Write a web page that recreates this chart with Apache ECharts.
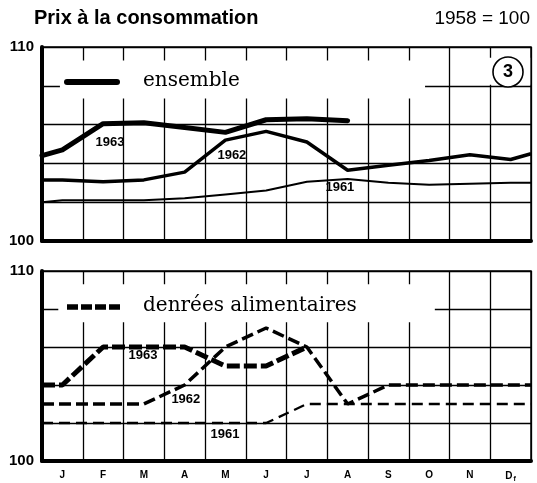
<!DOCTYPE html>
<html><head><meta charset="utf-8">
<script src="https://cdn.jsdelivr.net/npm/echarts@6/dist/echarts.min.js"></script>
<style>html,body{margin:0;padding:0;background:#fff}#c{width:537px;height:483px}</style>
</head><body><div id="c"></div>
<script>
// x positions: left edge, mid-month Jan..Dec, right edge
var xPos = [0, 0.5, 1.5, 2.5, 3.5, 4.5, 5.5, 6.5, 7.5, 8.5, 9.5, 10.5, 11.5, 12];
var monthLabels = ['J','F','M','A','M','J','J','A','S','O','N','D'];
var yTicks = [100, 110];

// Top panel: ensemble
var ens1963 = [104.4, 104.7, 106.05, 106.1, 105.85, 105.6, 106.25, 106.3, 106.2, null, null, null, null, null];
var ens1962 = [103.15, 103.15, 103.05, 103.15, 103.55, 105.2, 105.65, 105.1, 103.65, 103.9, 104.15, 104.45, 104.2, 104.5];
var ens1961 = [102.0, 102.1, 102.1, 102.1, 102.2, 102.4, 102.6, 103.05, 103.2, 103.0, 102.9, 102.95, 103.0, 103.0];

// Bottom panel: denrées alimentaires
var ali1963 = [104, 104, 106, 106, 106, 105, 105, 106, null, null, null, null, null, null];
var ali1962 = [103, 103, 103, 103, 104, 106, 107, 106, 103, 104, 104, 104, 104, 104];
var ali1961 = [102, 102, 102, 102, 102, 102, 102, 103, 103, 103, 103, 103, 103, 103];

function pairs(vals){
  var out = [];
  for (var i = 0; i < xPos.length; i++) if (vals[i] !== null) out.push([xPos[i], vals[i]]);
  return out;
}

var chart = echarts.init(document.getElementById('c'), null, {renderer: 'canvas'});

function yAx(gi){
  return {
    type: 'value', gridIndex: gi, min: 100, max: 110, interval: 2,
    axisLine: {show: true, lineStyle: {color: '#000', width: 4}},
    axisTick: {show: false},
    splitLine: {show: true, lineStyle: {color: '#000', width: 1.3}},
    axisLabel: {
      formatter: function(v){ return yTicks.indexOf(v) >= 0 ? String(v) : ''; },
      color: '#000', fontFamily: 'Liberation Sans', fontWeight: 'bold', fontSize: 15,
      margin: 8, padding: [0, 0, 4, 0]
    }
  };
}
function xVal(gi){
  return {
    type: 'value', gridIndex: gi, min: 0, max: 12, interval: 1, position: 'bottom',
    axisLine: {show: true, onZero: false, lineStyle: {color: '#000', width: 4}},
    axisTick: {show: false}, axisLabel: {show: false},
    splitLine: {show: true, lineStyle: {color: '#000', width: 1.3}}
  };
}

function yearLabel(x, y, txt){
  return {coord: [x, y], symbol: 'circle', symbolSize: 0,
    label: {show: true, position: 'inside', formatter: txt, color: '#000',
      fontFamily: 'Liberation Sans Narrow, Liberation Sans', fontWeight: 'bold', fontSize: 13}};
}

function whiteArea(x0, x1, y0, y1){
  return [{coord: [x0, y0], itemStyle: {color: '#fff', opacity: 1}}, {coord: [x1, y1]}];
}

var option = {
  animation: false,
  backgroundColor: '#fff',
  grid: [
    {left: 42, right: 6, top: 47, height: 194, show: true, borderColor: '#000', borderWidth: 1.5, backgroundColor: 'transparent'},
    {left: 42, right: 6, top: 271, height: 193, show: true, borderColor: '#000', borderWidth: 1.5, backgroundColor: 'transparent'}
  ],
  xAxis: [
    xVal(0), xVal(1),
    {
      type: 'category', gridIndex: 1, position: 'bottom', boundaryGap: true,
      data: monthLabels.map(function(m, i){ return String(i); }),
      axisLine: {show: false}, axisTick: {show: false}, splitLine: {show: false},
      axisLabel: {
        interval: 0, margin: 9, color: '#000', fontFamily: 'Liberation Sans', fontWeight: 'bold', fontSize: 10,
        formatter: function(v, i){ return i === 11 ? monthLabels[i] + '{s|f}' : monthLabels[i]; },
        rich: {s: {fontSize: 7, fontWeight: 'bold', fontFamily: 'Liberation Sans', color: '#000', padding: [6, 0, 0, 1]}}
      }
    }
  ],
  yAxis: [yAx(0), yAx(1)],
  series: [
    {type: 'line', name: '1961', xAxisIndex: 0, yAxisIndex: 0, data: pairs(ens1961), showSymbol: false,
      lineStyle: {color: '#000', width: 2}, z: 3,
      markArea: {silent: true, data: [whiteArea(0.44, 9.4, 107.35, 109.3), whiteArea(10.85, 11.98, 108.05, 109.45)]},
      markPoint: {data: [yearLabel(7.31, 102.75, '1961')]}},
    {type: 'line', name: '1962', xAxisIndex: 0, yAxisIndex: 0, data: pairs(ens1962), showSymbol: false,
      lineStyle: {color: '#000', width: 3.5}, z: 4,
      markPoint: {data: [yearLabel(4.66, 104.43, '1962')]}},
    {type: 'line', name: '1963', xAxisIndex: 0, yAxisIndex: 0, data: pairs(ens1963), showSymbol: false,
      lineStyle: {color: '#000', width: 5, cap: 'round', join: 'round'}, z: 5,
      markPoint: {data: [yearLabel(1.67, 105.1, '1963')]}},

    {type: 'line', name: 'a1961', xAxisIndex: 1, yAxisIndex: 1, data: pairs(ali1961), showSymbol: false,
      lineStyle: {color: '#000', width: 2.3, type: [11, 6]}, z: 3,
      markArea: {silent: true, data: [whiteArea(0.4, 9.64, 107.3, 109.3)]},
      markPoint: {data: [yearLabel(4.49, 101.4, '1961')]}},
    {type: 'line', name: 'a1962', xAxisIndex: 1, yAxisIndex: 1, data: pairs(ali1962), showSymbol: false,
      lineStyle: {color: '#000', width: 3.5, type: [12, 5]}, z: 4,
      markPoint: {data: [yearLabel(3.53, 103.26, '1962')]}},
    {type: 'line', name: 'a1963', xAxisIndex: 1, yAxisIndex: 1, data: pairs(ali1963), showSymbol: false,
      lineStyle: {color: '#000', width: 5, type: [13, 4]}, z: 5,
      markPoint: {data: [yearLabel(2.48, 105.54, '1963')]}}
  ],
  graphic: [
    {type: 'text', left: 34, top: 8, style: {text: 'Prix à la consommation', fill: '#000',
      font: 'bold 20px "Liberation Sans", Arial, sans-serif'}},
    {type: 'text', right: 7, top: 9, style: {text: '1958 = 100', fill: '#000',
      font: '19px "Liberation Sans", Arial, sans-serif'}},
    // legend top
    {type: 'line', shape: {x1: 67, y1: 82, x2: 117, y2: 82}, style: {stroke: '#000', lineWidth: 6, lineCap: 'round'}, z: 10},
    {type: 'text', x: 143, y: 81, style: {text: 'ensemble', fill: '#000', font: '20px "DejaVu Serif", serif', textVerticalAlign: 'middle'}, z: 10},
    // legend bottom
    {type: 'line', shape: {x1: 67, y1: 307, x2: 122, y2: 307}, style: {stroke: '#000', lineWidth: 5.5, lineDash: [11, 3]}, z: 10},
    {type: 'text', x: 143, y: 306, style: {text: 'denrées alimentaires', fill: '#000', font: '20px "DejaVu Serif", serif', textVerticalAlign: 'middle'}, z: 10},
    // circled 3
    {type: 'circle', shape: {cx: 508, cy: 72, r: 15}, style: {fill: '#fff', stroke: '#000', lineWidth: 1.6}, z: 10},
    {type: 'text', x: 508, y: 72, style: {text: '3', fill: '#000', font: 'bold 18px "Liberation Sans", Arial, sans-serif', textAlign: 'center', textVerticalAlign: 'middle'}, z: 11}
  ]
};
chart.setOption(option);
</script>
</body></html>
